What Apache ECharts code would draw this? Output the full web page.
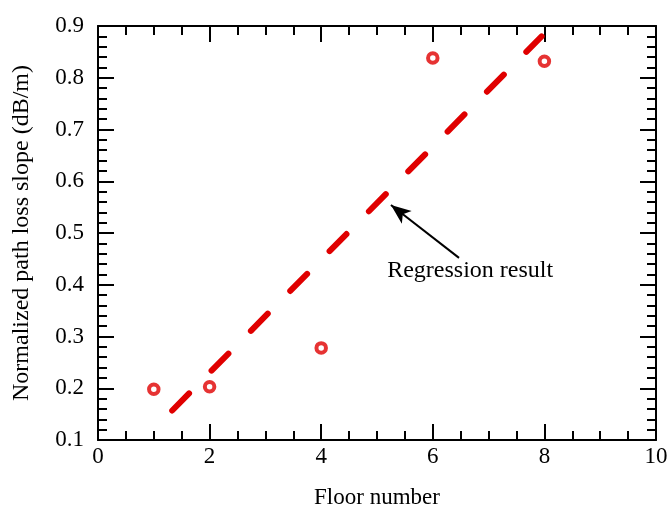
<!DOCTYPE html>
<html>
<head>
<meta charset="utf-8">
<script src="https://cdn.jsdelivr.net/npm/echarts@6/dist/echarts.min.js"></script>
<style>
  html, body { margin: 0; padding: 0; background: #fff; }
  #chart { width: 667px; height: 510px; }
</style>
</head>
<body>
<div id="chart"></div>
<script>
// measured points
var floors = [1, 2, 4, 6, 8];
var slopes = [0.198, 0.203, 0.278, 0.838, 0.832];

// regression line ends
var fitX = [1.33, 7.95];
var fitY = [0.157, 0.88];

// annotation: arrow tail -> tip, and text anchor
var arrowFrom = [6.47, 0.452];
var arrowTo = [5.25, 0.554];
var noteAt = [6.67, 0.428];
var noteText = 'Regression result';

var font = 'Liberation Serif';
var red = '#e00000';

var pts = floors.map(function(f, i) { return [f, slopes[i]]; });
var fit = fitX.map(function(x, i) { return [x, fitY[i]]; });

var tickStyle = { color: '#000', width: 2 };

function xAx(pos, show) {
    return {
        type: 'value', position: pos, min: 0, max: 10, interval: 2,
        name: show ? 'Floor number' : '',
        nameLocation: 'middle', nameGap: 46,
        nameTextStyle: { fontFamily: font, fontSize: 23, color: '#000' },
        axisLine: { show: true, onZero: false, lineStyle: tickStyle },
        axisTick: { show: true, inside: true, length: 16, lineStyle: tickStyle },
        minorTick: { show: true, splitNumber: 4, length: 9, lineStyle: tickStyle },
        axisLabel: { show: show, margin: 5, fontFamily: font, fontSize: 23, color: '#000' },
        splitLine: { show: false }
    };
}

function yAx(pos, show) {
    return {
        type: 'value', position: pos, min: 0.1, max: 0.9, interval: 0.1,
        name: show ? 'Normalized path loss slope (dB/m)' : '',
        nameLocation: 'middle', nameGap: 64, nameRotate: 90,
        nameTextStyle: { fontFamily: font, fontSize: 24, color: '#000' },
        axisLine: { show: true, onZero: false, lineStyle: tickStyle },
        axisTick: { show: true, inside: true, length: 16, lineStyle: tickStyle },
        minorTick: { show: true, splitNumber: 5, length: 9, lineStyle: tickStyle },
        axisLabel: {
            show: show, margin: 14, fontFamily: font, fontSize: 23, color: '#000',
            formatter: function(v) { return v.toFixed(1); }
        },
        splitLine: { show: false }
    };
}

var chart = echarts.init(document.getElementById('chart'));
chart.setOption({
    animation: false,
    backgroundColor: '#fff',
    grid: { left: 98, right: 11, top: 26, bottom: 70, outerBoundsMode: 'none', containLabel: false },
    xAxis: [xAx('bottom', true), xAx('top', false)],
    yAxis: [yAx('left', true), yAx('right', false)],
    series: [
        {
            type: 'line',
            data: fit,
            symbol: 'none',
            lineStyle: { color: red, width: 6, type: [24, 32], cap: 'round' },
            markLine: {
                silent: true,
                symbol: ['none', 'arrow'],
                symbolSize: [12, 20],
                label: { show: false },
                lineStyle: { color: '#000', width: 2, type: 'solid' },
                data: [[{ coord: arrowFrom }, { coord: arrowTo }]]
            },
            markPoint: {
                silent: true,
                symbol: 'circle', symbolSize: 0,
                label: {
                    show: true, position: 'inside', formatter: noteText,
                    fontFamily: font, fontSize: 24, color: '#000'
                },
                data: [{ coord: noteAt }]
            }
        },
        {
            type: 'scatter',
            data: pts,
            symbol: 'circle',
            symbolSize: 9.5,
            itemStyle: { color: '#fff', borderColor: red, borderWidth: 4 },
            z: 5
        }
    ]
});
</script>
</body>
</html>
